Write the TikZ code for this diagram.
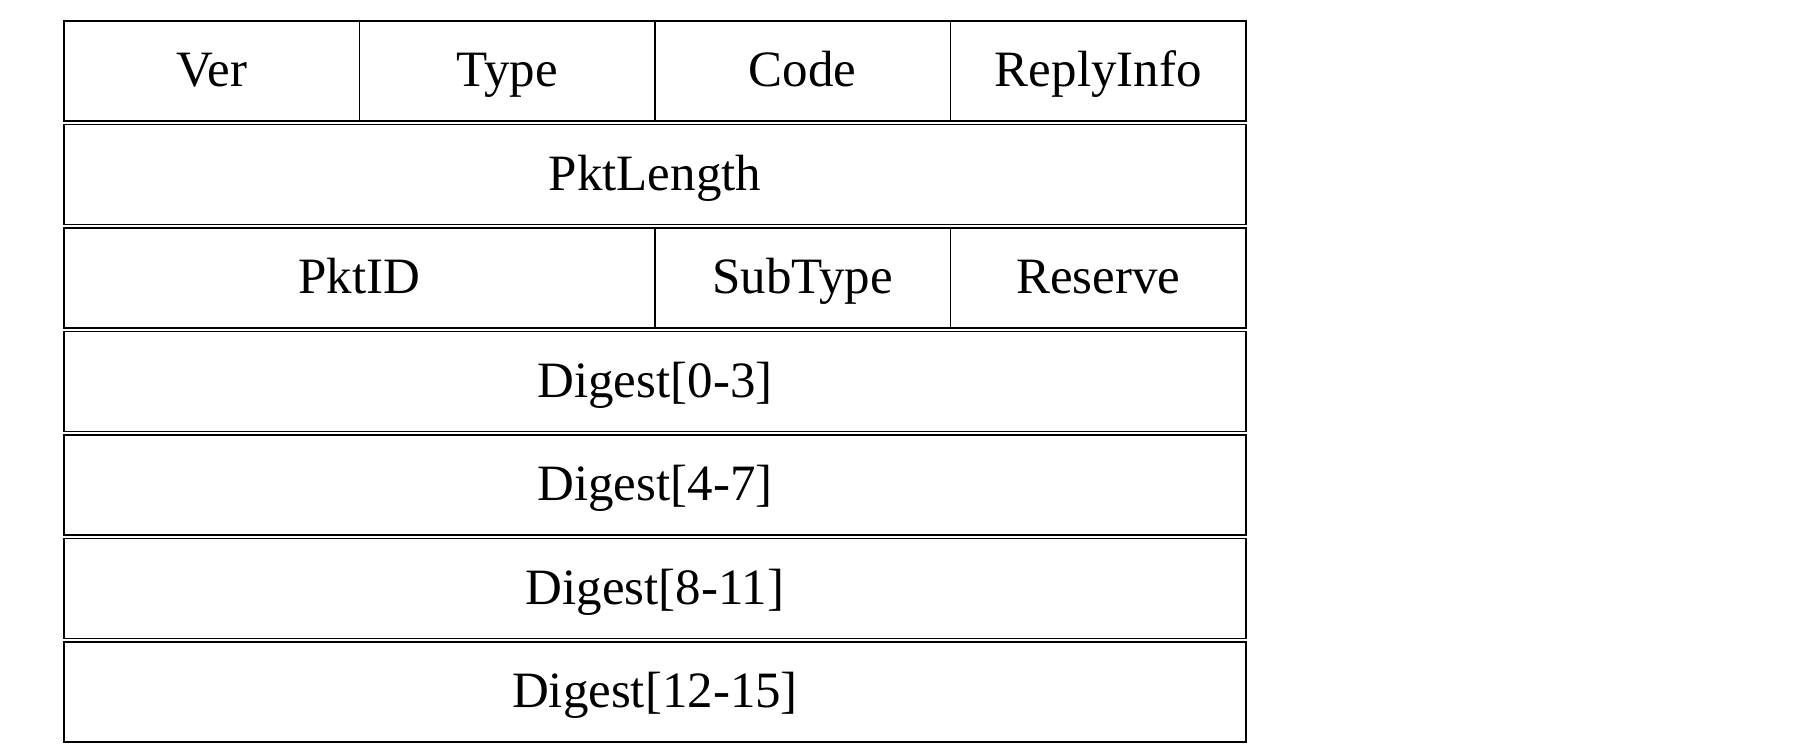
\documentclass[tikz,border=0pt]{standalone}
\usepackage{fontspec}
\setmainfont{Liberation Serif}
\usetikzlibrary{positioning}
\tikzset{
field/.style={draw, line width=0.5pt, minimum height=1cm, minimum width=2.955cm, inner sep=0pt, outer sep=0pt, text height=0.9em, text depth=0pt, font=\fontsize{14.5}{17}\selectfont, anchor=north west}, % one cell of the header
half/.style={field, minimum width=5.91cm}, % two cells wide
wide/.style={field, minimum width=11.82cm}, % whole row
}

\begin{document}
\begin{tikzpicture}
            \useasboundingbox (0,0) rectangle (18.16,7.54);
            \node[field] (ver) at (0.64,7.33) {Ver};
            \node[field, right=0pt of ver] (type) {Type};
            \node[field, right=0pt of type] (code) {Code};
            \node[field, right=0pt of code] (reply) {ReplyInfo};
            \node[wide, below right=0.035cm and 0cm of ver.south west] (pktlen) {PktLength};
            \node[half, below right=0.035cm and 0cm of pktlen.south west] (pktid) {PktID};
            \node[field, right=0pt of pktid] (subtype) {SubType};
            \node[field, right=0pt of subtype] (reserve) {Reserve};
            \node[wide, below right=0.035cm and 0cm of pktid.south west] (dig0) {Digest[0-3]};
            \node[wide, below right=0.035cm and 0cm of dig0.south west] (dig4) {Digest[4-7]};
            \node[wide, below right=0.035cm and 0cm of dig4.south west] (dig8) {Digest[8-11]};
            \node[wide, below right=0.035cm and 0cm of dig8.south west] (dig12) {Digest[12-15]};
\end{tikzpicture}
\end{document}
